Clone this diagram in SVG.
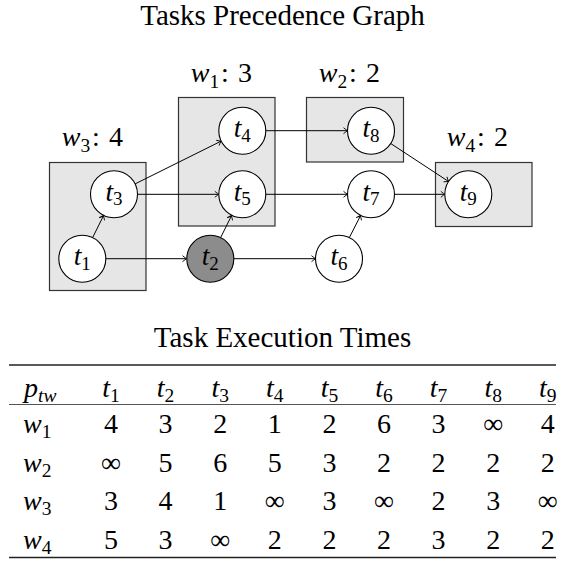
<svg xmlns="http://www.w3.org/2000/svg" width="561" height="563" viewBox="0 0 561 563">
<defs>
<style>
text{font-family:"Liberation Serif","Times New Roman",serif;fill:#000}
.title{font-size:29px;text-anchor:middle}
.lab{font-size:28px}
.nl{font-size:27.5px;text-anchor:middle}
.i{font-style:italic}
.sub{font-size:19px}
.lsub{font-size:19.5px}
.tsub{font-size:19.5px}
.box{fill:#e6e6e6;stroke:#333;stroke-width:1.2}
.node{fill:#fff;stroke:#000;stroke-width:1.1}
.gray{fill:#8c8c8c;stroke:#000;stroke-width:1.1}
.edge{stroke:#000;stroke-width:1;fill:none;marker-end:url(#arr)}
.cell{font-size:28px;text-anchor:middle}
.tl{font-size:28px}
.rule{stroke:#222;stroke-width:1.6}
.mid{stroke:#555;stroke-width:1.1}
</style>
<marker id="arr" markerWidth="8" markerHeight="8" refX="0" refY="0" viewBox="-5 -4 6 8" orient="auto" markerUnits="userSpaceOnUse">
<path d="M-4,-3 Q-1,-0.6 0,0 Q-1,0.6 -4,3" fill="none" stroke="#000" stroke-width="0.9"/>
</marker>
</defs>
<text class="title" x="282.5" y="25">Tasks Precedence Graph</text>

<g id="w3"><rect class="box" x="49.5" y="162.5" width="96.5" height="128"/><text class="lab" x="61.7" y="145.5"><tspan class="i">w</tspan><tspan class="lsub" dy="6">3</tspan><tspan x="92" dy="-6">:</tspan><tspan x="109">4</tspan></text></g>
<g id="w1"><rect class="box" x="178.5" y="97.5" width="96.5" height="128.5"/><text class="lab" x="190.7" y="81.5"><tspan class="i">w</tspan><tspan class="lsub" dy="6">1</tspan><tspan x="221" dy="-6">:</tspan><tspan x="238">3</tspan></text></g>
<g id="w2"><rect class="box" x="306.5" y="97.5" width="97" height="64.5"/><text class="lab" x="318.7" y="81.5"><tspan class="i">w</tspan><tspan class="lsub" dy="6">2</tspan><tspan x="349" dy="-6">:</tspan><tspan x="366">2</tspan></text></g>
<g id="w4"><rect class="box" x="435.5" y="162.5" width="96.5" height="64"/><text class="lab" x="446.7" y="145.5"><tspan class="i">w</tspan><tspan class="lsub" dy="6">4</tspan><tspan x="477" dy="-6">:</tspan><tspan x="494">2</tspan></text></g>

<g id="connectors">
<path class="edge" d="M92.7,237.5 L103.6,215.5"/>
<path class="edge" d="M105.8,258.7 L186.5,258.7"/>
<path class="edge" d="M135.1,183.9 L221.2,141.1"/>
<path class="edge" d="M137.5,194.3 L218.8,194.3"/>
<path class="edge" d="M220.7,237.5 L231.6,215.5"/>
<path class="edge" d="M233.8,258.7 L315.5,258.7"/>
<path class="edge" d="M265.8,130.7 L347.5,130.7"/>
<path class="edge" d="M265.8,194.3 L347.5,194.3"/>
<path class="edge" d="M349.4,237.5 L360.6,215.5"/>
<path class="edge" d="M394.5,194.3 L444.8,194.3"/>
<path class="edge" d="M390.7,143.5 L448.6,181.5"/>
</g>

<g id="t1"><circle class="node" cx="82.3" cy="258.7" r="23.5"/><text class="nl" x="82.3" y="265"><tspan class="i">t</tspan><tspan class="sub" dy="4.5">1</tspan></text></g>
<g id="t2"><circle class="gray" cx="210.3" cy="258.7" r="23.5"/><text class="nl" x="210.3" y="265"><tspan class="i">t</tspan><tspan class="sub" dy="4.5">2</tspan></text></g>
<g id="t3"><circle class="node" cx="114" cy="194.3" r="23.5"/><text class="nl" x="114" y="200.6"><tspan class="i">t</tspan><tspan class="sub" dy="4.5">3</tspan></text></g>
<g id="t4"><circle class="node" cx="242.3" cy="130.7" r="23.5"/><text class="nl" x="242.3" y="137"><tspan class="i">t</tspan><tspan class="sub" dy="4.5">4</tspan></text></g>
<g id="t5"><circle class="node" cx="242.3" cy="194.3" r="23.5"/><text class="nl" x="242.3" y="200.6"><tspan class="i">t</tspan><tspan class="sub" dy="4.5">5</tspan></text></g>
<g id="t6"><circle class="node" cx="339" cy="258.7" r="23.5"/><text class="nl" x="339" y="265"><tspan class="i">t</tspan><tspan class="sub" dy="4.5">6</tspan></text></g>
<g id="t7"><circle class="node" cx="371" cy="194.3" r="23.5"/><text class="nl" x="371" y="200.6"><tspan class="i">t</tspan><tspan class="sub" dy="4.5">7</tspan></text></g>
<g id="t8"><circle class="node" cx="371" cy="130.7" r="23.5"/><text class="nl" x="371" y="137"><tspan class="i">t</tspan><tspan class="sub" dy="4.5">8</tspan></text></g>
<g id="t9"><circle class="node" cx="468.3" cy="194.3" r="23.5"/><text class="nl" x="468.3" y="200.6"><tspan class="i">t</tspan><tspan class="sub" dy="4.5">9</tspan></text></g>

<g id="table">
<text class="title" x="282.5" y="347">Task Execution Times</text>
<line class="rule" x1="9" y1="365" x2="556" y2="365"/>
<line class="mid" x1="9" y1="404.5" x2="556" y2="404.5"/>
<line class="rule" x1="9" y1="557.5" x2="556" y2="557.5"/>
<text class="tl" x="24" y="396.5"><tspan class="i">p</tspan><tspan class="tsub i" dy="5">tw</tspan></text>
<text class="cell" x="111" y="396.5"><tspan class="i">t</tspan><tspan class="tsub" dy="5">1</tspan></text>
<text class="cell" x="165.6" y="396.5"><tspan class="i">t</tspan><tspan class="tsub" dy="5">2</tspan></text>
<text class="cell" x="220.2" y="396.5"><tspan class="i">t</tspan><tspan class="tsub" dy="5">3</tspan></text>
<text class="cell" x="274.8" y="396.5"><tspan class="i">t</tspan><tspan class="tsub" dy="5">4</tspan></text>
<text class="cell" x="329.4" y="396.5"><tspan class="i">t</tspan><tspan class="tsub" dy="5">5</tspan></text>
<text class="cell" x="384" y="396.5"><tspan class="i">t</tspan><tspan class="tsub" dy="5">6</tspan></text>
<text class="cell" x="438.6" y="396.5"><tspan class="i">t</tspan><tspan class="tsub" dy="5">7</tspan></text>
<text class="cell" x="493.2" y="396.5"><tspan class="i">t</tspan><tspan class="tsub" dy="5">8</tspan></text>
<text class="cell" x="547.8" y="396.5"><tspan class="i">t</tspan><tspan class="tsub" dy="5">9</tspan></text>
<text class="tl" x="23" y="433"><tspan class="i">w</tspan><tspan class="tsub" dy="5">1</tspan></text>
<text class="tl" x="23" y="471.5"><tspan class="i">w</tspan><tspan class="tsub" dy="5">2</tspan></text>
<text class="tl" x="23" y="510"><tspan class="i">w</tspan><tspan class="tsub" dy="5">3</tspan></text>
<text class="tl" x="23" y="548.5"><tspan class="i">w</tspan><tspan class="tsub" dy="5">4</tspan></text>
<g id="row1"><text class="cell" x="111" y="433">4</text><text class="cell" x="165.6" y="433">3</text><text class="cell" x="220.2" y="433">2</text><text class="cell" x="274.8" y="433">1</text><text class="cell" x="329.4" y="433">2</text><text class="cell" x="384" y="433">6</text><text class="cell" x="438.6" y="433">3</text><text class="cell" x="493.2" y="433">∞</text><text class="cell" x="547.8" y="433">4</text></g>
<g id="row2"><text class="cell" x="111" y="471.5">∞</text><text class="cell" x="165.6" y="471.5">5</text><text class="cell" x="220.2" y="471.5">6</text><text class="cell" x="274.8" y="471.5">5</text><text class="cell" x="329.4" y="471.5">3</text><text class="cell" x="384" y="471.5">2</text><text class="cell" x="438.6" y="471.5">2</text><text class="cell" x="493.2" y="471.5">2</text><text class="cell" x="547.8" y="471.5">2</text></g>
<g id="row3"><text class="cell" x="111" y="510">3</text><text class="cell" x="165.6" y="510">4</text><text class="cell" x="220.2" y="510">1</text><text class="cell" x="274.8" y="510">∞</text><text class="cell" x="329.4" y="510">3</text><text class="cell" x="384" y="510">∞</text><text class="cell" x="438.6" y="510">2</text><text class="cell" x="493.2" y="510">3</text><text class="cell" x="547.8" y="510">∞</text></g>
<g id="row4"><text class="cell" x="111" y="548.5">5</text><text class="cell" x="165.6" y="548.5">3</text><text class="cell" x="220.2" y="548.5">∞</text><text class="cell" x="274.8" y="548.5">2</text><text class="cell" x="329.4" y="548.5">2</text><text class="cell" x="384" y="548.5">2</text><text class="cell" x="438.6" y="548.5">3</text><text class="cell" x="493.2" y="548.5">2</text><text class="cell" x="547.8" y="548.5">2</text></g>
</g>
</svg>
